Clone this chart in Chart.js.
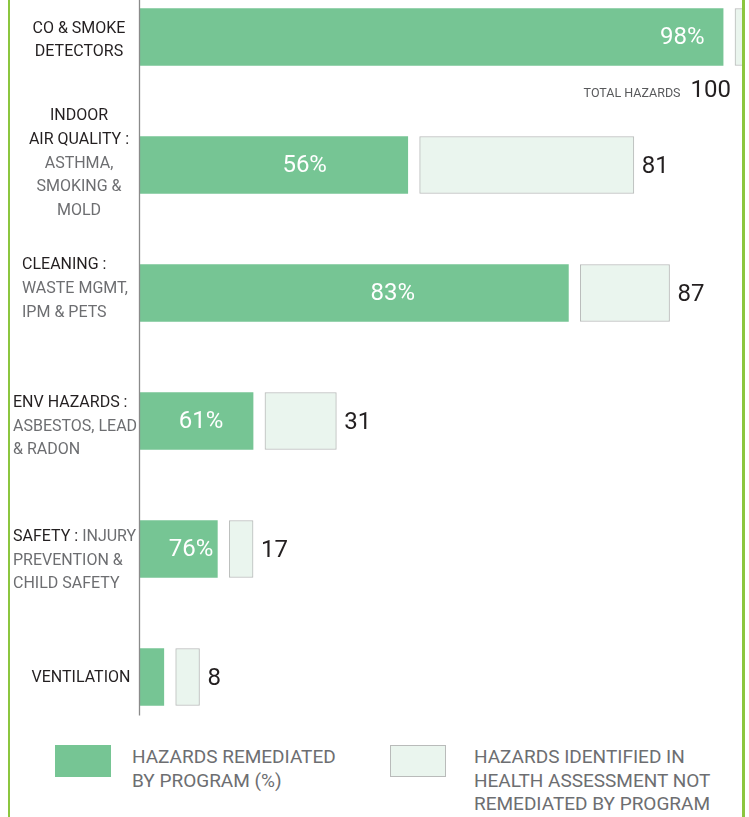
<!DOCTYPE html>
<html>
<head>
<meta charset="utf-8">
<script src="https://cdn.jsdelivr.net/npm/chart.js@4.4.1/dist/chart.umd.min.js"></script>
<style>
  html, body { margin: 0; padding: 0; background: #fff; }
  #wrap { position: relative; width: 749px; height: 817px; overflow: hidden; font-family: Roboto, sans-serif; }
  #chart { position: absolute; left: 0; top: -27px; }
  .frame { position: absolute; top: 0; width: 2.5px; height: 817px; background: #8cc63f; }
  .swatch { position: absolute; top: 745px; height: 32px; box-sizing: border-box; }
  .ltext { position: absolute; top: 745px; font-size: 19px; line-height: 23.5px; color: #6d6e71; white-space: pre-line; }
</style>
</head>
<body>
<div id="wrap">
  <canvas id="chart" width="749" height="768"></canvas>
  <div class="frame" style="left:7.5px"></div>
  <div class="frame" style="left:742px"></div>
  <div id="legend"></div>
</div>
<script>
// text before "|" is dark, after it grey
var categories = [
    'CO & SMOKE\nDETECTORS',
    'INDOOR\nAIR QUALITY :\n|ASTHMA,\nSMOKING &\nMOLD',
    'CLEANING :\n|WASTE MGMT,\nIPM & PETS',
    'ENV HAZARDS :\n|ASBESTOS, LEAD\n& RADON',
    'SAFETY : |INJURY\nPREVENTION &\nCHILD SAFETY',
    'VENTILATION'
];
var totalHazards = [100, 81, 87, 31, 17, 8];
var remediated = [98, 45, 72, 19, 13, 4];
var pctLabels = ['98%', '56%', '83%', '61%', '76%', ''];
var seriesNames = ['HAZARDS REMEDIATED\nBY PROGRAM (%)', 'HAZARDS IDENTIFIED IN\nHEALTH ASSESSMENT NOT\nREMEDIATED BY PROGRAM'];

var notRemediated = totalHazards.map(function (t, i) { return t - remediated[i]; });
var GAP = 2;

var DARK = '#231f20';
var GREY = '#6d6e71';
var GREEN = '#76c594';
var LIGHT = '#eaf5ee';
var LIGHT_BORDER = '#b9bbba';

// where each category label sits and where the % goes along the green bar
var labelStyle = [
    {align: 'center', x: 79, dy: 3.5},
    {align: 'center', x: 79, dy: -1.5},
    {align: 'left', x: 22, dy: -4},
    {align: 'left', x: 13, dy: 5.5},
    {align: 'left', x: 13, dy: 11.5},
    {align: 'center', x: 81, dy: 1}
];
var pctPos = [0.93, 0.615, 0.59, 0.54, 0.66, 0.5];

var overlay = {
    id: 'overlay',
    afterDraw: function (chart) {
        var ctx = chart.ctx, x = chart.scales.x, y = chart.scales.y;
        var half = 28.5;
        ctx.save();

        // axis line
        var last = y.getPixelForValue(categories.length - 1);
        ctx.strokeStyle = '#8a8a8a';
        ctx.lineWidth = 1.3;
        ctx.beginPath();
        ctx.moveTo(chart.chartArea.left - 0.5, chart.chartArea.top);
        ctx.lineTo(chart.chartArea.left - 0.5, last + half + 10);
        ctx.stroke();

        // category labels
        ctx.font = '16px Roboto';
        ctx.textBaseline = 'middle';
        ctx.textAlign = 'left';
        var lh = 23.7;
        categories.forEach(function (c, i) {
            var st = labelStyle[i];
            var parts = c.split('|');
            var lines = [[]];
            [[parts[0], DARK], [parts[1] || '', GREY]].forEach(function (p) {
                p[0].split('\n').forEach(function (t, k) {
                    if (k > 0) lines.push([]);
                    if (t) lines[lines.length - 1].push({t: t, c: p[1]});
                });
            });
            var cy = y.getPixelForValue(i) + st.dy;
            var y0 = cy - (lines.length - 1) * lh / 2;
            lines.forEach(function (segs, li) {
                var w = 0;
                segs.forEach(function (s) { w += ctx.measureText(s.t).width; });
                var px = st.align === 'center' ? st.x - w / 2 : st.x;
                segs.forEach(function (s) {
                    ctx.fillStyle = s.c;
                    ctx.fillText(s.t, px, y0 + li * lh);
                    px += ctx.measureText(s.t).width;
                });
            });
        });

        // percentages in the green bars
        ctx.font = '24px Roboto';
        ctx.textAlign = 'center';
        ctx.fillStyle = '#fff';
        pctLabels.forEach(function (p, i) {
            if (!p) return;
            var x0 = x.getPixelForValue(0);
            var x1 = x.getPixelForValue(remediated[i]);
            ctx.fillText(p, x0 + pctPos[i] * (x1 - x0), y.getPixelForValue(i) + 1);
        });

        // totals
        totalHazards.forEach(function (t, i) {
            var cy = y.getPixelForValue(i);
            var end = x.getPixelForValue(t + GAP);
            if (end > chart.chartArea.right) {
                var rx = x.getPixelForValue(t) - 4;
                var by = cy + half + 31;
                ctx.textBaseline = 'alphabetic';
                ctx.textAlign = 'right';
                ctx.font = '24px Roboto';
                ctx.fillStyle = DARK;
                ctx.fillText(String(t), rx, by);
                var w = ctx.measureText(String(t)).width;
                ctx.font = '12.5px Roboto';
                ctx.fillStyle = '#58595b';
                ctx.fillText('TOTAL HAZARDS', rx - w - 10, by);
            } else {
                ctx.textBaseline = 'middle';
                ctx.textAlign = 'left';
                ctx.font = '24px Roboto';
                ctx.fillStyle = DARK;
                ctx.fillText(String(t), end + 8, cy + 2);
            }
        });
        ctx.restore();
    }
};

var chart = new Chart(document.getElementById('chart'), {
    type: 'bar',
    data: {
        labels: categories.map(function (c) { return c.replace('|', ''); }),
        datasets: [{
            label: seriesNames[0],
            data: remediated,
            backgroundColor: GREEN,
            borderWidth: 0
        }, {
            label: 'gap',
            data: categories.map(function () { return GAP; }),
            backgroundColor: 'rgba(0,0,0,0)',
            borderWidth: 0
        }, {
            label: seriesNames[1],
            data: notRemediated,
            backgroundColor: LIGHT,
            borderColor: LIGHT_BORDER,
            borderWidth: 1,
            borderSkipped: false
        }]
    },
    options: {
        indexAxis: 'y',
        responsive: false,
        animation: false,
        events: [],
        layout: {padding: {left: 140, right: 14, top: 0, bottom: 0}},
        datasets: {bar: {barThickness: 57, clip: {left: 0, top: 0, right: 7, bottom: 0}}},
        scales: {
            x: {stacked: true, min: 0, max: 100, display: false},
            y: {stacked: true, display: false}
        },
        plugins: {legend: {display: false}, tooltip: {enabled: false}}
    },
    plugins: [overlay]
});

// html legend from the two real series
var slots = [{sw: 55, tx: 132}, {sw: 390, tx: 474}];
var legendHtml = '';
[0, 2].forEach(function (d, k) {
    var ds = chart.data.datasets[d];
    var border = ds.borderWidth ? 'border:1px solid ' + ds.borderColor + ';' : '';
    legendHtml += '<div class="swatch" style="left:' + slots[k].sw + 'px;width:56px;background:' + ds.backgroundColor + ';' + border + '"></div>';
    legendHtml += '<div class="ltext" style="left:' + slots[k].tx + 'px">' + ds.label + '</div>';
});
document.getElementById('legend').innerHTML = legendHtml;
</script>
</body>
</html>
